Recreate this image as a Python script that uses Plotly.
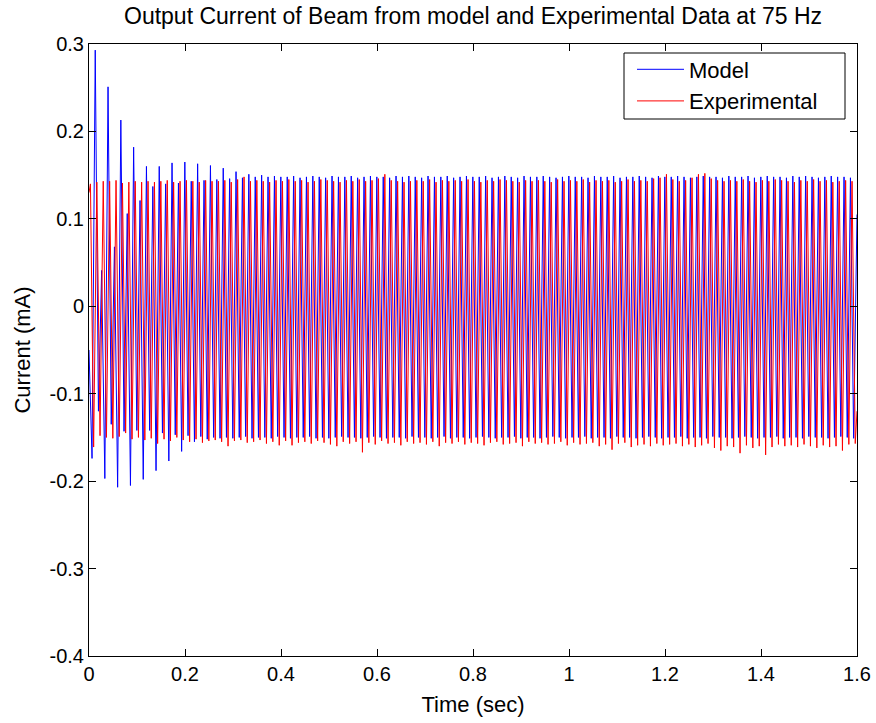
import plotly.graph_objects as go

# ---------------- data ----------------
FREQ = 75.0            # drive frequency (Hz), from the title
MODEL_PHASE = 0.013    # time of first model peak (s)
EXP_PHASE = 0.003      # time of first experimental peak (s)

model_start = -0.05
model_end = 0.105
# model troughs (trough k precedes peak k)
model_troughs = [
    -0.174, -0.120, -0.197, -0.135, -0.207, -0.143, -0.205, -0.142, -0.198, -0.142,
    -0.188, -0.145, -0.177, -0.147, -0.166, -0.148, -0.155, -0.149, -0.152, -0.150,
    -0.151, -0.150, -0.151, -0.150, -0.149, -0.151, -0.150, -0.150, -0.151, -0.149,
    -0.150, -0.151, -0.150, -0.150, -0.149, -0.151, -0.150, -0.151, -0.150, -0.149,
    -0.150, -0.150, -0.151, -0.150, -0.149, -0.150, -0.151, -0.150, -0.150, -0.151,
    -0.149, -0.150, -0.150, -0.151, -0.150, -0.149, -0.151, -0.150, -0.150, -0.151,
    -0.150, -0.149, -0.150, -0.151, -0.150, -0.150, -0.149, -0.151, -0.150, -0.150,
    -0.151, -0.150, -0.149, -0.150, -0.151, -0.150, -0.150, -0.149, -0.151, -0.150,
    -0.150, -0.151, -0.149, -0.150, -0.150, -0.151, -0.150, -0.149, -0.150, -0.151,
    -0.150, -0.150, -0.149, -0.151, -0.150, -0.150, -0.151, -0.149, -0.150, -0.150,
    -0.151, -0.150, -0.149, -0.150, -0.151, -0.150, -0.150, -0.149, -0.151, -0.150,
    -0.150, -0.151, -0.149, -0.150, -0.150, -0.151, -0.150, -0.149, -0.150, -0.151,
]
model_peaks = [
    0.293, 0.041, 0.251, 0.068, 0.213, 0.106, 0.182, 0.121, 0.160, 0.137,
    0.160, 0.140, 0.164, 0.141, 0.165, 0.143, 0.163, 0.144, 0.161, 0.145,
    0.158, 0.146, 0.154, 0.147, 0.151, 0.148, 0.150, 0.148, 0.149, 0.148,
    0.148, 0.149, 0.147, 0.148, 0.149, 0.148, 0.147, 0.149, 0.148, 0.148,
    0.149, 0.147, 0.148, 0.149, 0.148, 0.148, 0.147, 0.149, 0.148, 0.149,
    0.148, 0.147, 0.149, 0.148, 0.148, 0.149, 0.147, 0.148, 0.149, 0.148,
    0.148, 0.149, 0.147, 0.148, 0.149, 0.148, 0.147, 0.149, 0.148, 0.148,
    0.149, 0.148, 0.147, 0.148, 0.149, 0.148, 0.148, 0.147, 0.149, 0.148,
    0.148, 0.149, 0.147, 0.148, 0.148, 0.149, 0.148, 0.147, 0.149, 0.148,
    0.148, 0.149, 0.148, 0.147, 0.148, 0.149, 0.148, 0.148, 0.147, 0.149,
    0.148, 0.148, 0.149, 0.147, 0.148, 0.149, 0.148, 0.148, 0.147, 0.149,
    0.148, 0.149, 0.148, 0.147, 0.148, 0.149, 0.148, 0.148, 0.147,
]

exp_start = 0.13
exp_end = -0.12
exp_peaks = [
    0.140, 0.142, 0.143, 0.143, 0.144, 0.141, 0.142, 0.143, 0.142, 0.143,
    0.142, 0.143, 0.144, 0.142, 0.143, 0.144, 0.143, 0.142, 0.144, 0.143,
    0.143, 0.144, 0.142, 0.145, 0.148, 0.143, 0.144, 0.143, 0.142, 0.144,
    0.143, 0.145, 0.143, 0.144, 0.142, 0.143, 0.145, 0.144, 0.143, 0.142,
    0.144, 0.143, 0.145, 0.143, 0.144, 0.146, 0.151, 0.144, 0.143, 0.142,
    0.143, 0.144, 0.143, 0.145, 0.142, 0.144, 0.143, 0.144, 0.143, 0.145,
    0.143, 0.142, 0.144, 0.143, 0.145, 0.144, 0.143, 0.142, 0.144, 0.143,
    0.144, 0.143, 0.142, 0.145, 0.143, 0.144, 0.143, 0.145, 0.142, 0.144,
    0.143, 0.144, 0.142, 0.143, 0.145, 0.143, 0.144, 0.143, 0.146, 0.147,
    0.151, 0.145, 0.143, 0.144, 0.147, 0.151, 0.152, 0.146, 0.144, 0.143,
    0.144, 0.143, 0.145, 0.143, 0.142, 0.144, 0.143, 0.145, 0.144, 0.143,
    0.142, 0.144, 0.143, 0.145, 0.143, 0.144, 0.142, 0.143, 0.144, 0.143,
]
exp_troughs = [
    -0.161, -0.148, -0.150, -0.151, -0.149, -0.145, -0.152, -0.150, -0.153, -0.151,
    -0.157, -0.152, -0.154, -0.150, -0.153, -0.155, -0.152, -0.156, -0.154, -0.153,
    -0.155, -0.160, -0.154, -0.153, -0.156, -0.155, -0.153, -0.157, -0.155, -0.159,
    -0.154, -0.159, -0.156, -0.155, -0.157, -0.154, -0.156, -0.158, -0.160, -0.155,
    -0.157, -0.155, -0.167, -0.156, -0.158, -0.154, -0.157, -0.156, -0.159, -0.155,
    -0.157, -0.156, -0.158, -0.155, -0.160, -0.156, -0.157, -0.155, -0.158, -0.156,
    -0.157, -0.159, -0.156, -0.155, -0.158, -0.157, -0.156, -0.160, -0.155, -0.157,
    -0.156, -0.158, -0.157, -0.155, -0.159, -0.156, -0.158, -0.157, -0.156, -0.160,
    -0.158, -0.164, -0.157, -0.156, -0.161, -0.159, -0.158, -0.160, -0.157, -0.159,
    -0.158, -0.157, -0.160, -0.158, -0.161, -0.159, -0.157, -0.162, -0.165, -0.160,
    -0.161, -0.168, -0.159, -0.162, -0.160, -0.170, -0.161, -0.158, -0.160, -0.159,
    -0.161, -0.158, -0.160, -0.162, -0.159, -0.161, -0.160, -0.165, -0.158, -0.157,
]

x_ticks = [0, 0.2, 0.4, 0.6, 0.8, 1.0, 1.2, 1.4, 1.6]
x_tick_text = ["0", "0.2", "0.4", "0.6", "0.8", "1", "1.2", "1.4", "1.6"]
y_ticks = [-0.4, -0.3, -0.2, -0.1, 0, 0.1, 0.2, 0.3]
y_tick_text = ["-0.4", "-0.3", "-0.2", "-0.1", "0", "0.1", "0.2", "0.3"]
T_END = 1.6

# ---------------- build the series from the extrema ----------------
mt, my = [0.0], [model_start]
for k, v in enumerate(model_troughs):
    mt.append(MODEL_PHASE + (k - 0.5) / FREQ)
    my.append(v)
    if k < len(model_peaks):
        mt.append(MODEL_PHASE + k / FREQ)
        my.append(model_peaks[k])
mt.append(T_END)
my.append(model_end)

et, ey = [0.0], [exp_start]
for k, v in enumerate(exp_peaks):
    et.append(EXP_PHASE + k / FREQ)
    ey.append(v)
    et.append(EXP_PHASE + (k + 0.5) / FREQ)
    ey.append(exp_troughs[k])
et.append(T_END)
ey.append(exp_end)

FONT = "Liberation Sans, Arial, Helvetica, sans-serif"
W, H = 876, 723
ML, MR, MT, MB = 89, 19, 44, 67
PW, PH = W - ML - MR, H - MT - MB

def px_x(p):  # pixel -> paper x
    return (p - ML) / PW

def px_y(p):  # pixel -> paper y
    return (H - MB - p) / PH

fig = go.Figure()
fig.add_trace(go.Scatter(x=mt, y=my, mode="lines", name="Model",
                         line=dict(color="#0000ff", width=1)))
fig.add_trace(go.Scatter(x=et, y=ey, mode="lines", name="Experimental",
                         line=dict(color="#ff0000", width=1)))

axis_common = dict(showline=True, linecolor="black", linewidth=1, mirror="ticks",
                   ticks="inside", ticklen=7, tickcolor="black", showgrid=False,
                   zeroline=False, automargin=False,
                   tickfont=dict(family=FONT, size=20, color="black"))

# legend frame
fig.add_shape(type="rect", xref="paper", yref="paper",
              x0=px_x(624), x1=px_x(845), y0=px_y(119), y1=px_y(53),
              line=dict(color="black", width=1), fillcolor="white", layer="above")

fig.update_layout(
    template="none",
    width=W, height=H, autosize=False,
    margin=dict(l=ML, r=MR, t=MT, b=MB, pad=0),
    paper_bgcolor="white", plot_bgcolor="white",
    font=dict(family=FONT, size=20, color="black"),
    title=dict(text="Output Current of Beam from model and Experimental Data at 75 Hz",
               x=0.5, xanchor="center", xref="paper",
               y=1 - 16 / H, yref="container", yanchor="middle",
               font=dict(family=FONT, size=23, color="black")),
    xaxis=dict(range=[0, T_END], tickvals=x_ticks, ticktext=x_tick_text,
               title=dict(text="Time (sec)", standoff=12,
                          font=dict(family=FONT, size=22, color="black")),
               **axis_common),
    yaxis=dict(range=[-0.4, 0.3], tickvals=y_ticks, ticktext=y_tick_text,
               title=dict(text="Current (mA)", standoff=12,
                          font=dict(family=FONT, size=22, color="black")),
               **axis_common),
    legend=dict(x=px_x(632), y=px_y(48.5), xanchor="left", yanchor="top",
                bgcolor="rgba(0,0,0,0)", borderwidth=0,
                font=dict(family=FONT, size=22, color="black"),
                itemwidth=47, tracegroupgap=0),
    showlegend=True,
)

fig.write_html("out.html")
